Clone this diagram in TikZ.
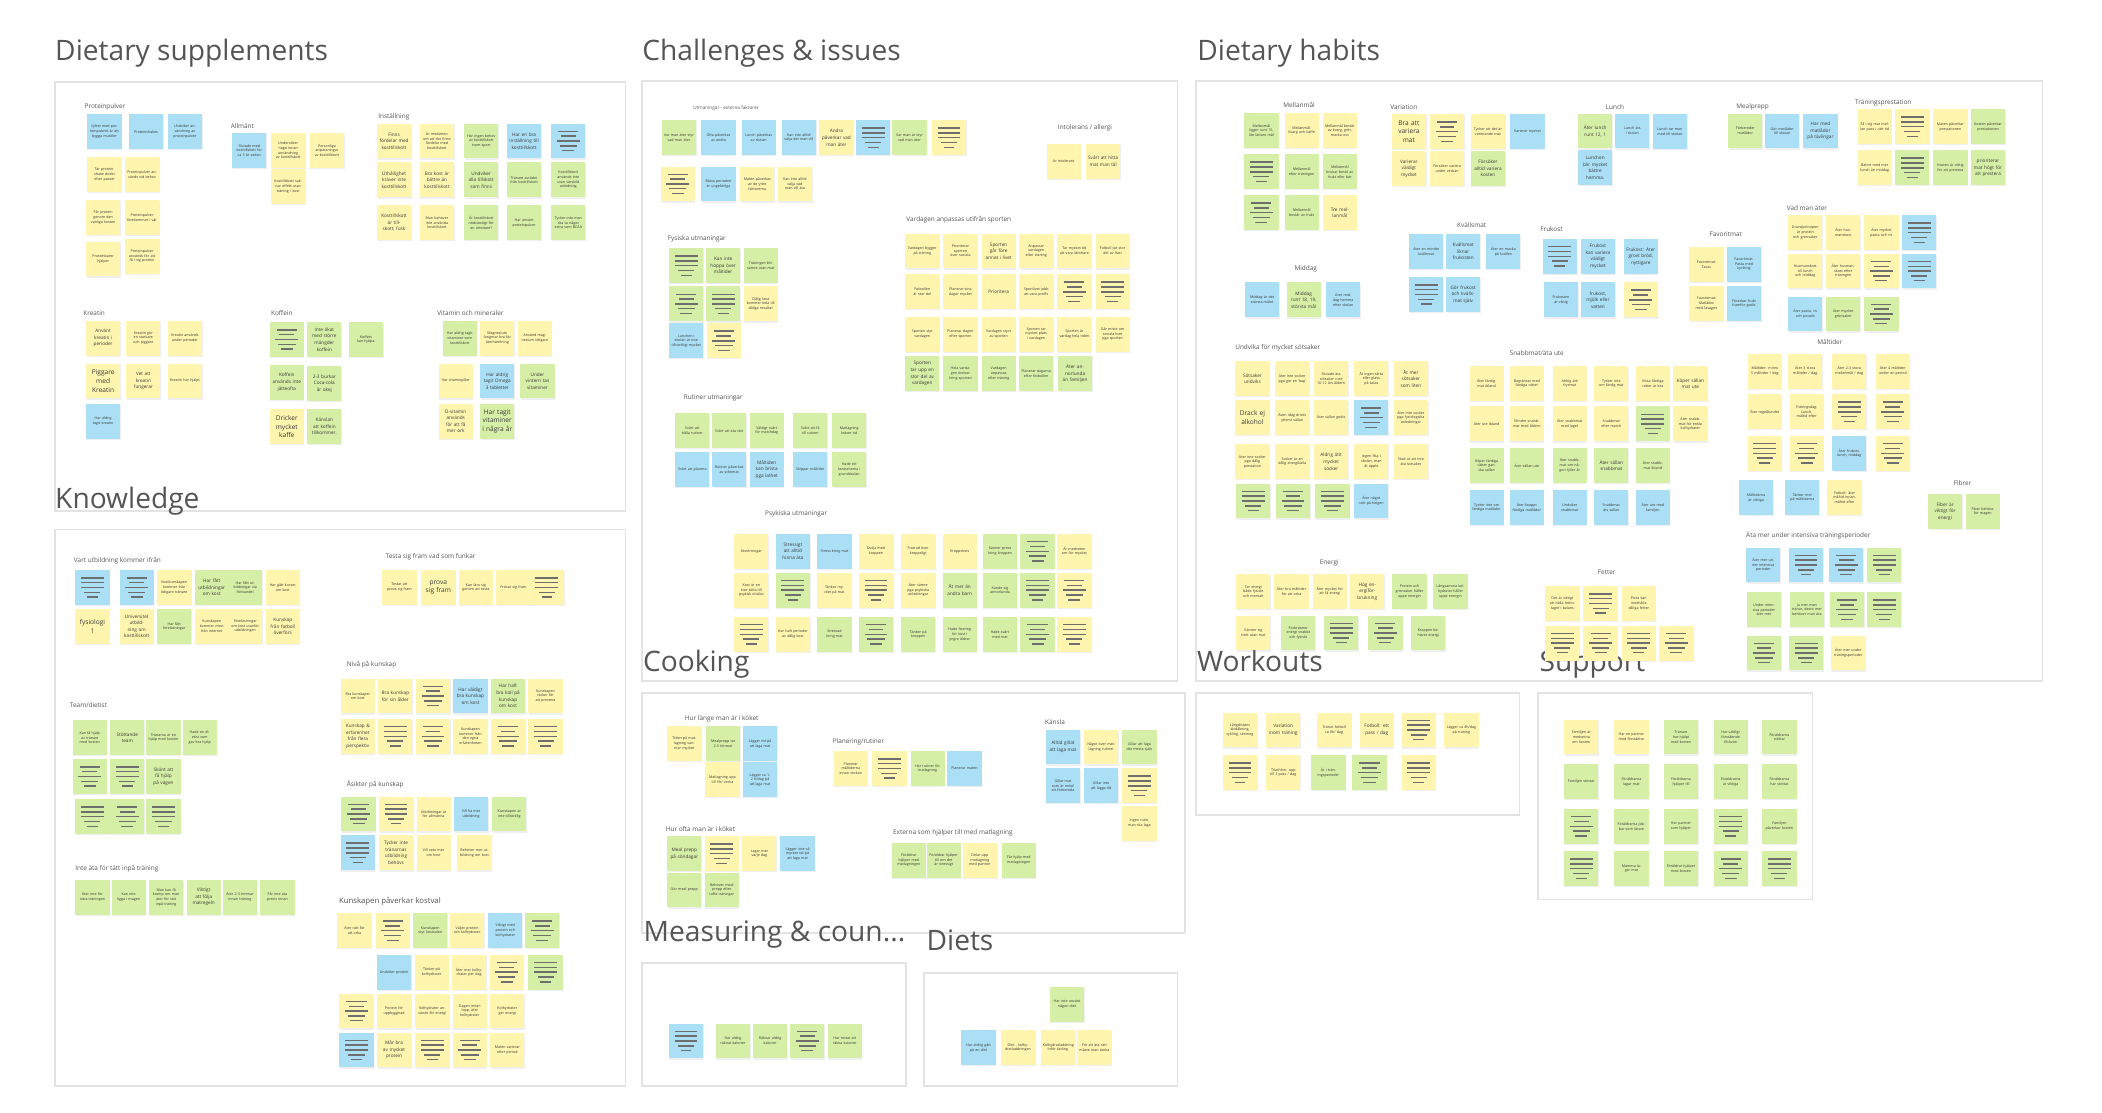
\documentclass[tikz,border=0pt]{standalone}
\usepackage{fontspec}
\setmainfont{Open Sans}
\usetikzlibrary{shadows}

\definecolor{yel}{HTML}{FFF5AF}
\definecolor{grn}{HTML}{D6EFA6}
\definecolor{blu}{HTML}{ABDFF6}
\definecolor{framegray}{HTML}{E3E3E3}
\definecolor{inkgray}{HTML}{555555}
\definecolor{bargray}{HTML}{6E6E6E}

% text sizes inside the notes
\newcommand{\szs}{\fontsize{2.7}{3.5}\selectfont}
\newcommand{\szm}{\fontsize{3.5}{4.9}\selectfont}
\newcommand{\szl}{\fontsize{4.9}{6.5}\selectfont}

% sticky note: x, y (top left), colour, size, text
\newcounter{stk}
\newcommand{\stk}[5]{\stepcounter{stk}%
  \node[sticky,fill=#3,font=\csname sz#4\endcsname] (n\arabic{stk}) at (#1,#2) {#5};}
% sticky note too small to read: drawn as bars
\newcommand{\lns}[3]{\stepcounter{stk}%
  \node[sticky,fill=#3] (n\arabic{stk}) at (#1,#2) {};
  \ifodd\value{stk}
    \foreach \w/\dy in {17/-7.2,17/-3.6,17/0,12/3.6,8/7.2}
      \draw[bar] ([xshift=-\w/2]n\arabic{stk}.center) ++(0,\dy) -- ++(\w,0);
  \else
    \foreach \w/\dy in {15/-7.2,11/-3.6,17/0,13/3.6,9/7.2}
      \draw[bar] ([xshift=-\w/2]n\arabic{stk}.center) ++(0,\dy) -- ++(\w,0);
  \fi}

\begin{document}
\begin{tikzpicture}[x=1pt,y=-1pt,
  frame/.style={draw=framegray,line width=1.3pt},
  title/.style={anchor=base west,inner sep=0,text=inkgray,font=\fontsize{21}{25}\selectfont},
  grp/.style={anchor=west,inner sep=0,text=inkgray,font=\fontsize{4.8}{5.5}\selectfont},
  sticky/.style={anchor=north west,minimum width=25.5pt,minimum height=26pt,inner sep=1pt,
    text width=22.5pt,align=center,text=black!78,
    drop shadow={shadow xshift=0.4pt,shadow yshift=-0.9pt,opacity=0.12}},
  bar/.style={draw=bargray,line width=1.1pt}]
\fill[white] (0,0) rectangle (1568,830);
\useasboundingbox (0,0) rectangle (1568,830);

% frames
\draw[frame] (41,61) rectangle (466.5,381);
\draw[frame] (41,395) rectangle (466.5,810);
\draw[frame] (479,60.5) rectangle (878.3,508);
\draw[frame] (892,60.5) rectangle (1523.5,508);
\draw[frame] (479,517) rectangle (884.1,696);
\draw[frame] (892,517) rectangle (1133.5,608);
\draw[frame] (1147.5,517) rectangle (1352,671);
\draw[frame] (479,718.5) rectangle (676,810);
\draw[frame] (689,726) rectangle (878.3,810);

% titles
\node[title] (tsupp) at (41,45.5) {Dietary supplements};
\node[title] (tchal) at (479,45.5) {Challenges \& issues};
\node[title] (thab) at (893,45.5) {Dietary habits};
\node[title] (tknow) at (41,379) {Knowledge};
\node[title] (tcook) at (479.5,501) {Cooking};
\node[title] (twork) at (892.7,501) {Workouts};
\node[title] (tsupport) at (1148.3,501) {Support};
\node[title] (tmeas) at (480,702.5) {Measuring \& coun...};
\node[title] (tdiet) at (691,709) {Diets};

%% Dietary supplements
\node[grp] (gprot) at (63,80) {Proteinpulver};
\stk{65}{85}{blu}{s}{Syftet med proteinpulvret är att bygga muskler}
\stk{96}{85}{blu}{s}{Proteinshakes}
\stk{125}{85}{blu}{s}{Undviker användning av proteinpulver}
\stk{65}{117}{yel}{s}{Tar proteinshake direkt efter passet}
\stk{93}{117}{yel}{s}{Proteinpulver används vid behov}
\stk{64}{149}{yel}{s}{Får protein genom den vanliga kosten}
\stk{93}{149}{yel}{s}{Proteinpulver förekommer i vår}
\stk{64}{180}{yel}{s}{Proteinbarer hjälper}
\stk{93}{178}{yel}{s}{Proteinpulver används för att få i sig protein}

\node[grp] (gallm) at (172,94) {Allmänt};
\stk{173}{99}{blu}{s}{Slutade med kosttillskott för ca 3 år sedan}
\stk{202}{99}{yel}{s}{Undersöker noga innan användning av kosttillskott}
\stk{231}{99}{yel}{s}{Personliga anpassningar av kosttillskott}
\stk{202}{126}{yel}{s}{Kosttillskott saknar effekt utan träning / kost}

\node[grp] (ginst) at (282,87) {Inställning};
\stk{281}{92}{yel}{m}{Finns fördelar med kosttillskott}
\stk{313}{92}{yel}{s}{Är medveten om att det finns fördelar med kosttillskott}
\stk{346}{92}{grn}{s}{Har ingen behov av kosttillskott inom sport}
\stk{378}{92}{blu}{m}{Har en bra inställning till kosttillskott}
\lns{411}{92}{blu}
\stk{281}{121}{yel}{m}{Uthållighet kräver inte kosttillskott}
\stk{313}{121}{yel}{m}{Bra kost är bättre än kosttillskott}
\stk{346}{121}{grn}{m}{Undviker alla tillskott som finns}
\stk{378}{121}{grn}{s}{Tränare avråder från kosttillskott}
\stk{411}{121}{grn}{s}{Kosttillskott används inte utan särskild anledning}
\stk{281}{153}{yel}{m}{Kosttillskott är tillskott, fusk}
\stk{313}{153}{yel}{s}{Man behöver inte använda kosttillskott}
\stk{346}{153}{grn}{s}{Är kosttillskott nödvändigt för en idrottare?}
\stk{378}{153}{grn}{s}{Har använt proteinpulver}
\stk{411}{153}{grn}{s}{Tycker inte man ska ta något extra som BCAA}

\node[grp] (gkrea) at (62,233.7) {Kreatin};
\stk{64}{239}{yel}{m}{Använt kreatin i perioder}
\stk{94}{239}{yel}{s}{Kreatin gör en starkare och piggare}
\stk{125}{239}{yel}{s}{Kreatin används under perioder}
\stk{64}{271}{yel}{l}{Piggare med Kreatin}
\stk{94}{271}{yel}{m}{Vet att kreatin fungerar}
\stk{125}{271}{yel}{s}{Kreatin har hjälpt}
\stk{64}{301}{blu}{s}{Har aldrig tagit kreatin}

\node[grp] (gkoff) at (202,233.7) {Koffein};
\lns{201}{240}{grn}
\stk{229}{240}{grn}{m}{Inte ökat med större mängder koffein}
\stk{260}{240}{grn}{s}{Koffein kan hjälpa}
\stk{201}{272}{grn}{m}{Koffein används inte jätteofta}
\stk{229}{273}{grn}{m}{2-3 burkar Coca-cola är okej}
\stk{201}{305}{yel}{l}{Dricker mycket kaffe}
\stk{229}{305}{grn}{m}{Känslan att koffein tillkommer.}

\node[grp] (gvit) at (326,233.7) {Vitamin och mineraler};
\stk{330}{239}{grn}{s}{Har aldrig tagit vitaminer som kosttillskott}
\stk{358}{239}{yel}{s}{Magnesium fungerar bra för återhämtning}
\stk{386}{239}{yel}{s}{Använd magnesium tidigare}
\stk{327}{271}{yel}{s}{Har vitaminpiller}
\stk{358}{271}{blu}{m}{Har aldrig tagit Omega 3 tabletter}
\stk{388}{271}{grn}{m}{Under vintern tas vitaminer}
\stk{327}{301}{yel}{m}{D-vitamin används för att få mer ork}
\stk{358}{301}{grn}{l}{Har tagit vitaminer i några år}

%% Knowledge
\node[grp] (gvart) at (55,418) {Vart utbildning kommer ifrån};
\lns{56}{425}{blu}
\lns{89}{425}{blu}
\stk{117}{425}{yel}{s}{Kostkunskapen kommer från tidigare tränare}
\stk{145}{425}{grn}{m}{Har fått utbildningar om kost}
\stk{170}{425}{grn}{s}{Har fått utbildningar via förbundet}
\stk{198}{425}{yel}{s}{Har gått kurser om kost}
\stk{56}{454}{yel}{l}{fysiologi 1}
\stk{89}{454}{yel}{m}{Universitet utbildning om kosttillskott}
\stk{117}{454}{grn}{s}{Har fått föreläsningar}
\stk{145}{454}{yel}{s}{Kunskapen kommer mest från internet}
\stk{170}{454}{yel}{s}{Föreläsningar om kost utanför utbildningen}
\stk{198}{454}{yel}{m}{Kunskap från fotboll överförs}

\node[grp] (gtesta) at (287.5,415) {Testa sig fram vad som funkar};
\stk{285}{425}{yel}{s}{Testar att prova sig fram}
\stk{314}{425}{yel}{l}{prova sig fram}
\stk{342}{425}{yel}{s}{Kan lära sig genom att testa}
\stk{370}{425}{yel}{s}{Prövar sig fram}
\lns{395}{425}{yel}

\node[grp] (gteam) at (52,526) {Team/dietist};
\stk{54}{537}{grn}{s}{Kan få hjälp av tränare med kosten}
\stk{82}{537}{grn}{m}{Stöttande team}
\stk{109}{537}{grn}{s}{Tränarna är en hjälp med kosten}
\stk{136}{537}{grn}{s}{Hade en dietist som gav bra hjälp}
\lns{54}{566}{grn}
\lns{82}{566}{grn}
\stk{109}{566}{grn}{m}{Skönt att få hjälp på vägen}
\lns{56}{596}{grn}
\lns{82}{596}{grn}
\lns{109}{596}{grn}

\node[grp] (ginte) at (56,648) {Inte äta för tätt inpå träning};
\stk{56}{656}{grn}{s}{Äter inte för nära träningen}
\stk{83}{656}{grn}{s}{Kan inte ligga i magen}
\stk{111}{656}{grn}{s}{Man kan få kramp om man äter för tätt inpå träning}
\stk{139}{656}{grn}{m}{Viktigt att följa matregeln}
\stk{166}{656}{grn}{s}{Äter 2-3 timmar innan träning}
\stk{194}{656}{grn}{s}{Får inte äta precis innan}

\node[grp] (gniva) at (258.5,496) {Nivå på kunskap};
\stk{254}{506}{yel}{s}{Bra kunskaper om kost}
\stk{282}{506}{yel}{m}{Bra kunskap för sin ålder}
\lns{310}{506}{yel}
\stk{338}{506}{blu}{m}{Har väldigt bra kunskap om kost}
\stk{366}{506}{grn}{m}{Har haft bra koll på kunskap om kost}
\stk{394}{506}{yel}{s}{Kunskapen räcker för att prestera}
\stk{254}{536}{yel}{m}{Kunskap \& erfarenhet från flera perspektiv}
\lns{282}{536}{yel}
\lns{310}{536}{yel}
\stk{338}{536}{yel}{s}{Kunskapen kommer från den egna erfarenheten}
\lns{366}{536}{yel}
\lns{394}{536}{yel}

\node[grp] (gasik) at (258.5,585) {Åsikter på kunskap};
\lns{254.5}{594}{grn}
\lns{282.5}{594}{yel}
\stk{310.5}{594}{yel}{s}{Utbildningar är för allmänna}
\stk{338.5}{594}{blu}{s}{Vill ha mer utbildning}
\stk{367}{594}{grn}{s}{Kunskapen är inte tillräcklig}
\lns{254}{623}{blu}
\stk{282.5}{623}{yel}{m}{Tycker inte tränarnas utbildning behövs}
\stk{310.5}{623}{yel}{s}{Vill veta mer om kost}
\stk{341}{623}{yel}{s}{Behöver mer utbildning om kost}

\node[grp,font=\fontsize{5.8}{6.6}\selectfont] (gkval) at (252.7,672.6) {Kunskapen påverkar kostval};
\stk{251.5}{681}{yel}{s}{Äter rätt för att orka}
\lns{280}{681}{yel}
\stk{308}{681}{grn}{s}{Kunskapen styr kostvalen}
\stk{335.5}{681}{yel}{s}{Väljer protein och kolhydrater}
\stk{364}{681}{blu}{s}{Viktigt med protein och kolhydrater}
\lns{391.5}{681}{grn}
\stk{281}{712}{blu}{s}{Undviker protein}
\stk{309}{712}{yel}{s}{Tänker på kolhydrater}
\stk{337}{712}{yel}{s}{Äter mer kolhydrater per dag}
\lns{365}{712}{yel}
\lns{394}{712}{grn}
\lns{253}{741}{yel}
\stk{281}{741}{yel}{s}{Protein för uppbyggnad}
\stk{309.5}{741}{yel}{s}{Kolhydrater används för energi}
\stk{337.5}{741}{yel}{s}{Dagen innan lopp, äter kolhydrater}
\stk{365.5}{741}{yel}{s}{Kolhydrater ger energi}
\lns{253}{770}{blu}
\stk{281}{770}{yel}{m}{Mår bra av mycket protein}
\lns{309.5}{770}{yel}
\lns{337.5}{770}{yel}
\stk{365.5}{770}{yel}{s}{Maten varierar efter period}

%% Challenges & issues
\node[grp,font=\fontsize{3.5}{4}\selectfont] (gext) at (517,80.6) {Utmaningar - externa faktorer};
\stk{493.5}{89.5}{grn}{s}{Var man äter styr vad man äter}
\stk{523}{89.5}{blu}{s}{Ofta påverkas av andra}
\stk{553}{89.5}{blu}{s}{Lunch påverkas av skolan}
\stk{583}{89.5}{blu}{s}{Kan inte alltid välja det man vill}
\stk{611}{89.5}{yel}{m}{Andra påverkar vad man äter}
\lns{638.5}{89.5}{blu}
\stk{665.5}{89.5}{grn}{s}{Var man är styr vad man äter}
\lns{695}{89.5}{yel}
\lns{492.5}{124}{yel}
\stk{523}{124}{blu}{s}{Bästa perioden är ungefärliga}
\stk{552}{124}{yel}{s}{Maten påverkas av de yttre faktorerna}
\stk{580}{124}{yel}{s}{Kan inte alltid välja vad man vill äta}

\node[grp] (gintol) at (789,95.7) {Intolerans / allergi};
\stk{780.5}{107}{yel}{s}{Är intolerant}
\stk{810}{107}{yel}{m}{Svårt att hitta mat man tål}

\node[grp] (gvard) at (676,164) {Vardagen anpassas utifrån sporten};
\stk{675}{174}{yel}{s}{Vardagen bygger på träning}
\stk{703.5}{174}{yel}{s}{Prioriterar sporten över sociala}
\stk{732}{174}{yel}{m}{Sporten går före annat i livet}
\stk{760}{174}{yel}{s}{Anpassar vardagen efter träning}
\stk{788.5}{174}{yel}{s}{Tar mycket tid att vara idrottare}
\stk{817}{174}{yel}{s}{Fotboll tar stor del av livet}
\stk{675}{204.5}{yel}{s}{Fotbollen är stor del}
\stk{703.5}{204.5}{yel}{s}{Planerar sina dagar mycket}
\stk{732}{204.5}{yel}{m}{Prioritera}
\stk{760}{204.5}{yel}{s}{Sportlivet jobb att vara proffs}
\lns{788.5}{204.5}{yel}
\lns{817}{204.5}{yel}
\stk{675}{236}{yel}{s}{Sporten styr vardagen}
\stk{703.5}{236}{yel}{s}{Planerar dagen efter sporten}
\stk{732}{236}{yel}{s}{Vardagen styrs av sporten}
\stk{760}{236}{yel}{s}{Sporten tar mycket plats i vardagen}
\stk{788.5}{236}{yel}{s}{Sporten är vardag hela tiden}
\stk{817}{236}{yel}{s}{Går miste om sociala livet pga sporten}
\stk{675}{265.5}{grn}{m}{Sporten tar upp en stor del av vardagen}
\stk{703.5}{265.5}{grn}{s}{Hela vardagen kretsar kring sporten}
\stk{732}{265.5}{grn}{s}{Vardagen anpassas efter träning}
\stk{760}{265.5}{grn}{s}{Planerar dagarna efter fotbollen}
\stk{789}{265.5}{grn}{m}{Äter annorlunda än familjen}

\node[grp] (gfys) at (498,177.8) {Fysiska utmaningar};
\lns{499}{185}{grn}
\stk{526.5}{185}{grn}{m}{Kan inte hoppa över måltider}
\stk{554.5}{185}{grn}{s}{Träningen blir sämre utan mat}
\lns{499}{213.5}{grn}
\lns{526.5}{213.5}{grn}
\stk{554.5}{213.5}{yel}{s}{Dålig kost kommer leda till dåliga resultat}
\stk{499}{241}{blu}{s}{Lunchen i skolan är inte tillräckligt mycket}
\lns{527}{241}{yel}

\node[grp] (grut) at (510,296.6) {Rutiner utmaningar};
\stk{503.5}{308}{grn}{s}{Svårt att hålla rutiner}
\stk{531}{308}{grn}{s}{Svårt att äta rätt}
\stk{559}{308}{grn}{s}{Väldigt svårt för matchdag}
\stk{591.5}{308}{grn}{s}{Svårt att få till rutiner}
\stk{620.5}{308}{grn}{s}{Matlagning kräver tid}
\stk{503.5}{337}{blu}{s}{Svårt att planera}
\stk{531}{337}{blu}{s}{Rutiner påverkas av schemat}
\stk{559}{337}{blu}{m}{Måltiden kan brista pga lathet}
\stk{591.5}{337}{blu}{s}{Skippar måltider}
\stk{620.5}{337}{grn}{s}{Hade ett kostschema i grundskolan}

\node[grp] (gpsyk) at (570.6,383) {Psykiska utmaningar};
\stk{547.5}{398}{yel}{s}{Ätstörningar}
\stk{578.5}{398}{blu}{m}{Stressigt att alltid hinna äta}
\stk{609.5}{398}{blu}{s}{Stress kring mat}
\stk{640.5}{398}{yel}{s}{Ovilja med kroppen}
\stk{672}{398}{yel}{s}{Fixerad över kroppsligt}
\stk{703}{398}{yel}{s}{Kroppshets}
\stk{733}{398}{grn}{s}{Känner press kring kroppen}
\lns{761}{398}{grn}
\stk{788.5}{398}{yel}{s}{Är medveten om för mycket}
\stk{547.5}{427}{yel}{s}{Kost är en stor källa till psykisk ohälsa}
\lns{578.5}{427}{grn}
\stk{609.5}{427}{yel}{s}{Tänker mycket på mat}
\lns{640.5}{427}{yel}
\stk{672}{427}{yel}{s}{Äter sämre pga psykiska anledningar}
\stk{703}{427}{grn}{m}{Åt mer än andra barn}
\stk{733}{427}{grn}{s}{Kände sig annorlunda}
\lns{761}{427}{grn}
\lns{788.5}{427}{yel}
\lns{547.5}{460}{yel}
\stk{578.5}{460}{yel}{s}{Har haft perioder av dålig kost}
\stk{609.5}{460}{grn}{s}{Stressad kring mat}
\lns{640.5}{460}{grn}
\stk{672}{460}{grn}{s}{Tänker på kroppen}
\stk{703}{460}{grn}{s}{Hade fixering för kost i yngre åldrar}
\stk{733}{460}{grn}{s}{Hade svårt med mat}
\lns{761}{460}{grn}
\lns{788.5}{460}{yel}

%% Dietary habits
\node[grp,anchor=center] (gmell) at (969,78) {Mellanmål};
\stk{928}{84}{grn}{s}{Mellanmål ligger runt 15, lite lättare mål}
\stk{958}{84}{yel}{s}{Mellanmål: Kvarg och kaffe}
\stk{986.5}{84}{yel}{s}{Mellanmål består av kvarg, gröt, macka osv}
\lns{928}{115}{grn}
\stk{958}{115}{grn}{s}{Mellanmål efter träningen}
\stk{986.5}{115}{grn}{s}{Mellanmål brukar bestå av frukt eller bär}
\lns{928}{145.5}{grn}
\stk{958}{145.5}{grn}{s}{Mellanmål består av frukt}
\stk{986.5}{145.5}{yel}{m}{Tre mellanmål}

\node[grp] (gvari) at (1037,79.8) {Variation};
\stk{1038}{85}{yel}{l}{Bra att variera mat}
\lns{1066.5}{85}{yel}
\stk{1097}{85}{yel}{s}{Tycker att det är varierande mat}
\stk{1126.5}{85}{blu}{s}{Varierar mycket}
\stk{1038}{112.5}{yel}{m}{Varierar väldigt mycket}
\stk{1066.5}{112.5}{yel}{s}{Försöker variera under veckan}
\stk{1097}{112.5}{grn}{m}{Försöker alltid variera kosten}

\node[grp,anchor=center] (glunch) at (1204.7,79.6) {Lunch};
\stk{1177}{84.5}{grn}{m}{Äter lunch runt 12, 1}
\stk{1204.7}{84.5}{blu}{s}{Lunch äts i skolan}
\stk{1232.7}{85}{blu}{s}{Lunch tar man med till skolan}
\stk{1177}{112}{blu}{m}{Lunchen blir mycket bättre hemma.}

\node[grp,anchor=center] (gkvall) at (1097.8,168) {Kvällsmat};
\stk{1051}{174.5}{blu}{s}{Äter en mindre kvällsmat}
\stk{1078.5}{174.5}{blu}{m}{Kvällsmat liknar frukosten}
\stk{1108.5}{174.5}{blu}{s}{Äter en macka på kvällen}
\lns{1051}{206.5}{blu}
\stk{1078.5}{206.5}{blu}{m}{Gör frukost och kvällsmat själv}

\node[grp] (gfruk) at (1148.8,170.6) {Frukost};
\lns{1150.5}{178}{blu}
\stk{1179}{178}{blu}{m}{Frukost kan variera väldigt mycket}
\stk{1211}{178}{blu}{m}{Frukost: Äter grovt bröd, nyttigare}
\stk{1151.5}{210.5}{blu}{s}{Frukosten är viktig}
\stk{1179}{210.5}{blu}{m}{frukost, mjölk eller vatten}
\lns{1211}{210.5}{yel}

\node[grp,anchor=center] (gmidd) at (974,200.4) {Middag};
\stk{928.5}{210.5}{blu}{s}{Middag är det största målet}
\stk{959.5}{210.5}{grn}{m}{Middag runt 18, 19, största mål}
\stk{989}{210.5}{blu}{s}{Äter middag hemma efter skolan}

\node[grp] (gsot) at (921.3,259.3) {Undvika för mycket sötsaker};
\stk{921.3}{269.3}{yel}{m}{Sötsaker undviks}
\stk{951}{269.3}{yel}{s}{Äter inte socker pga gör en 'bag'}
\stk{980}{269.3}{yel}{s}{Slutade äta sötsaker runt 10-12 års åldern}
\stk{1010}{269.3}{yel}{s}{Åt ingen tårta eller glass på kalas}
\stk{1039.5}{269.3}{yel}{m}{Åt mer sötsaker som liten}
\stk{921.3}{298.4}{yel}{l}{Drack ej alkohol}
\stk{951}{298.4}{yel}{s}{Även idag dricks ytterst sällan}
\stk{980}{298.4}{yel}{s}{Äter sällan godis}
\lns{1010}{298.4}{blu}
\stk{1039.5}{298.4}{yel}{s}{Äter inte socker pga fysiologiska anledningar}
\stk{921.3}{331.2}{yel}{s}{Äter inte socker pga dålig prestation}
\stk{951}{331.2}{yel}{s}{Socker är en dålig energikälla}
\stk{980}{331.2}{yel}{m}{Aldrig ätit mycket socker}
\stk{1010}{331.2}{yel}{s}{Ingen fika i skolan, man åt äpple}
\stk{1039.5}{331.2}{yel}{s}{Stod ut att inte äta sötsaker}
\lns{922}{360.5}{grn}
\lns{951.5}{360.5}{grn}
\lns{981}{360.5}{grn}
\stk{1010}{360.5}{blu}{s}{Äter något sött på helgen}

\node[grp] (gsnabb) at (1126,263.6) {Snabbmat/äta ute};
\stk{1096}{273}{yel}{s}{Äter färdigmat ibland}
\stk{1126}{273}{yel}{s}{Begränsat med färdiga rätter}
\stk{1158}{273}{yel}{s}{Aldrig ätit frysmat}
\stk{1189}{273}{yel}{s}{Tycker inte om färdig mat}
\stk{1220}{273}{yel}{s}{Vissa färdiga rätter är bra}
\stk{1248}{273}{yel}{m}{Köper sällan mat ute}
\stk{1096}{303}{yel}{s}{Äter ute ibland}
\stk{1126}{303}{yel}{s}{Mindre snabbmat med åldern}
\stk{1158}{303}{yel}{s}{Äter snabbmat med laget}
\stk{1189}{303}{yel}{s}{Snabbmat efter match}
\lns{1220}{303}{grn}
\stk{1248}{303}{yel}{s}{Äter snabbmat för enkla kolhydrater}
\stk{1096}{334}{grn}{s}{Köper färdiga rätter ganska sällan}
\stk{1126}{334}{grn}{s}{Äter sällan ute}
\stk{1158}{334}{grn}{s}{Äter snabbmat om någon fyller år}
\stk{1189}{334}{grn}{m}{Äter sällan snabbmat}
\stk{1220}{334}{grn}{s}{Äter snabbmat ibland}
\stk{1096}{365.5}{blu}{s}{Tycker inte om färdiga matlådor}
\stk{1126}{365.5}{blu}{s}{Äter knappt färdiga matlådor}
\stk{1158}{365.5}{blu}{s}{Undviker snabbmat}
\stk{1189}{365.5}{blu}{s}{Snabbmat äts sällan}
\stk{1220}{365.5}{blu}{s}{Äter ute med familjen}

\node[grp,anchor=center] (gener) at (991.6,420.2) {Energi};
\stk{922}{428}{yel}{s}{Tar energi både fysiskt och mentalt}
\stk{950.5}{428}{yel}{s}{Äter bra måltider för att orka}
\stk{979}{428}{yel}{s}{Äter mycket för att få energi}
\stk{1007}{428}{yel}{m}{Hög energiförbrukning}
\stk{1038.5}{428}{grn}{s}{Protein och grönsaker håller uppe energin}
\stk{1069}{428}{grn}{s}{Långsamma kolhydrater håller uppe energin}
\stk{922}{459}{yel}{s}{Känner sig trött utan mat}
\stk{955.5}{459}{grn}{s}{Förbränner energi snabbt och fysiskt}
\lns{987.5}{459}{grn}
\lns{1020.5}{459}{grn}
\stk{1052.5}{459}{grn}{s}{Kroppen behöver energi}

\node[grp,anchor=center] (gfett) at (1198.5,427) {Fetter};
\stk{1152.5}{437}{yel}{s}{Det är viktigt att hålla fettintaget i balans}
\lns{1181}{437}{yel}
\stk{1209.5}{437}{yel}{s}{Pizza kan innehålla dåliga fetter}
\lns{1152.5}{466.5}{yel}
\lns{1181}{466.5}{yel}
\lns{1209.5}{466.5}{yel}
\lns{1237.5}{466.5}{yel}

\node[grp] (gmeal) at (1295,79.6) {Mealprepp};
\stk{1289}{84.5}{grn}{s}{Förbereder matlådor}
\stk{1316.5}{84.5}{blu}{s}{Gör matlådor till skolan}
\stk{1345}{84.5}{blu}{m}{Har med matlådor på tävlingar}

\node[grp] (gtran) at (1383.7,76.6) {Träningsprestation};
\stk{1385.5}{81.3}{yel}{s}{Få i sig mat mellan pass i rätt tid}
\lns{1413.5}{81.3}{yel}
\stk{1442}{81.3}{yel}{s}{Maten påverkar prestationen}
\stk{1470}{81.3}{grn}{s}{Kosten påverkar prestationen}
\stk{1385.5}{112}{yel}{s}{Bättre med mer lunch än middag}
\lns{1413.5}{112}{grn}
\stk{1442}{112}{grn}{s}{Kosten är viktig för att prestera}
\stk{1470}{112}{grn}{m}{prioriterar mat högt för att prestera}

\node[grp] (gfav) at (1275,174.8) {Favoritmat};
\stk{1260}{184}{yel}{s}{Favoritmat: Tacos}
\stk{1288}{184}{blu}{s}{Favoritmat: Pasta med kyckling}
\stk{1260}{213.3}{yel}{s}{Favoritmat: Matlådor med lasagne}
\stk{1288}{213.3}{blu}{s}{Föredrar frukt framför godis}

\node[grp] (gvad) at (1332.7,155) {Vad man äter};
\stk{1333.7}{160.4}{yel}{s}{Grundprincipen är protein och grönsaker}
\stk{1362}{160.4}{yel}{s}{Äter husmanskost}
\stk{1390.5}{160.4}{yel}{s}{Äter mycket pasta och ris}
\lns{1418.7}{160.4}{blu}
\stk{1333.7}{189}{yel}{s}{Husmanskost till lunch och middag}
\stk{1362}{189}{yel}{s}{Äter husmanskost efter träningen}
\lns{1390.5}{189}{yel}
\lns{1418.7}{189}{blu}
\stk{1333.7}{221}{blu}{s}{Äter pasta, ris och potatis}
\stk{1362}{221}{grn}{s}{Äter mycket grönsaker}
\lns{1390.5}{221}{grn}

\node[grp,anchor=center] (gmalt) at (1365,255) {Måltider};
\stk{1303.5}{263.6}{yel}{s}{Måltider: minst 5 måltider / dag}
\stk{1333.7}{263.6}{yel}{s}{Äter 3 stora måltider / dag}
\stk{1366.5}{263.6}{yel}{s}{Äter 2-3 stora mellanmål / dag}
\stk{1399}{263.6}{yel}{s}{Äter 4 måltider under en period}
\stk{1303.5}{294}{yel}{s}{Äter regelbundet}
\stk{1334.7}{294}{yel}{s}{Träningsdag: Lunch, måltid efter}
\lns{1366.5}{294}{yel}
\lns{1399}{294}{yel}
\lns{1303.5}{325}{yel}
\lns{1334.7}{325}{yel}
\stk{1366.5}{325}{blu}{s}{Äter frukost, lunch, middag}
\lns{1399}{325}{yel}
\stk{1297}{358}{blu}{s}{Måltiderna är viktiga}
\stk{1331.5}{358}{blu}{s}{Tänker mer på måltiderna}
\stk{1363}{358}{yel}{s}{Fotboll: äter måltid innan, måltid efter}

\node[grp,anchor=center] (gfib) at (1464,360.5) {Fibrer};
\stk{1438}{368.5}{grn}{m}{Fiber är viktigt för energi}
\stk{1466}{368.5}{grn}{s}{Fiber behövs för magen}

\node[grp] (gata) at (1302.4,399.6) {Äta mer under intensiva träningsperioder};
\stk{1302.4}{408.3}{blu}{s}{Äter mer under intensiva perioder}
\lns{1334.2}{408.3}{blu}
\lns{1364.3}{408.3}{blu}
\lns{1392.6}{408.3}{grn}
\stk{1302.9}{441.6}{grn}{s}{Under intensiva perioder äter mer}
\stk{1334.9}{441.6}{grn}{s}{Ju mer man tränar, desto mer behöver man äta}
\lns{1364.8}{441.6}{grn}
\lns{1392.6}{441.6}{grn}
\lns{1302.9}{473.9}{grn}
\lns{1334.4}{473.9}{grn}
\stk{1365.8}{473.9}{yel}{s}{Äter mer under träningsperioder}

%% Cooking
\node[grp] (glang) at (510.7,536.5) {Hur länge man är i köket};
\stk{497.5}{541.5}{yel}{s}{Tiden på matlagning varierar mycket}
\stk{526.5}{541.5}{grn}{s}{Mealprepp tar 2-3 timmar}
\stk{554}{541.5}{blu}{s}{Lägger tid på att laga mat}
\stk{526}{568.5}{yel}{s}{Matlagning upp till 5h/ vecka}
\stk{554}{568.5}{blu}{s}{Lägger ca 1-2 h/dag på att laga mat}

\node[grp] (gofta) at (496.5,618.6) {Hur ofta man är i köket};
\stk{497.5}{623.6}{grn}{m}{Meal prepp på söndagar}
\lns{525.5}{623.6}{yel}
\stk{553.5}{623.6}{yel}{s}{Lagar mat varje dag}
\stk{582}{623.6}{blu}{s}{Lägger inte så mycket tid på att laga mat}
\stk{497.5}{650.7}{grn}{s}{Gör meal prepp}
\stk{525.5}{650.7}{grn}{s}{Behöver meal prepp efter tuffa träningar}

\node[grp] (gplan) at (621,553.2) {Planering/rutiner};
\stk{621.7}{560}{yel}{s}{Planerar måltiderna innan veckan}
\lns{650.5}{560}{yel}
\stk{679}{560}{grn}{s}{Har rutiner för matlagning}
\stk{706.5}{560}{blu}{s}{Planerar maten}

\node[grp] (gkans) at (779.4,538.5) {Känsla};
\stk{780}{544}{blu}{m}{Alltid gillat att laga mat}
\stk{808.5}{544}{yel}{s}{Något över matlagning rutiner}
\stk{837}{544}{grn}{s}{Gillar att laga det mesta själv}
\stk{780}{573}{blu}{s}{Gillar mat som är enkel att förbereda}
\stk{808.5}{573}{blu}{s}{Gillar inte att lägga tid}
\lns{837}{573}{yel}
\stk{837}{601}{yel}{s}{Ingen rutin, man ska laga}

\node[grp] (gextm) at (666,621) {Externa som hjälper till med matlagning};
\stk{665}{628.5}{grn}{s}{Föräldrar hjälper med matlagningen}
\stk{691}{628.5}{grn}{s}{Föräldrar hjälper till om det är stressigt}
\stk{718}{628.5}{yel}{s}{Delar upp matlagning med partner}
\stk{747}{628.5}{grn}{s}{Får hjälp med matlagningen}

%% Measuring & counting
\lns{498.7}{763.3}{blu}
\stk{533.8}{763.3}{grn}{s}{Har aldrig räknat kalorier}
\stk{561.5}{763.3}{grn}{s}{Räknar aldrig kalorier}
\lns{589.2}{763.3}{grn}
\stk{617.2}{763.3}{grn}{s}{Har testat att räkna kalorier}

%% Diets
\stk{783}{736}{grn}{s}{Har inte använt någon diet}
\stk{717}{768.3}{blu}{s}{Har aldrig gått på en diet}
\stk{746.4}{768.3}{yel}{s}{Diet - kolhydratladdningen}
\stk{776.2}{768.3}{yel}{s}{Kolhydratladdning inför tävling}
\stk{803.4}{768.3}{yel}{s}{För att äta rätt måste man tänka}

%% Workouts
\stk{912}{531.3}{yel}{s}{Långdistans skidåkning, cykling, simning}
\stk{944.3}{531.3}{yel}{m}{Variation inom träning}
\stk{982.3}{531.3}{yel}{s}{Tränar fotboll ca 6h/ dag}
\stk{1014}{531.3}{yel}{m}{Fotboll: ett pass / dag}
\lns{1045.4}{531.3}{yel}
\stk{1077.2}{531.3}{yel}{s}{Lägger ca 4h/dag på träning}
\lns{912}{563.2}{yel}
\stk{944.3}{563.2}{yel}{s}{Triathlon: upp till 3 pass / dag}
\stk{978}{563.2}{grn}{s}{Är i träningsperioder}
\lns{1008.6}{563.2}{grn}
\lns{1045.4}{563.2}{yel}

%% Support
\stk{1166.6}{536.6}{yel}{s}{Familjen är medvetna om kosten}
\stk{1204}{536.6}{yel}{s}{Har en partner med förståelse}
\stk{1241}{536.6}{grn}{s}{Tränare har hjälpt med kosten}
\stk{1278}{536.6}{grn}{s}{Har väldigt förstående flickvän}
\stk{1314.4}{536.6}{grn}{s}{Föräldrarna stöttar}
\stk{1166.6}{570}{grn}{s}{Familjen stöttar}
\stk{1204}{570}{grn}{s}{Föräldrarna lagar mat}
\stk{1241}{570}{grn}{s}{Föräldrarna hjälper till}
\stk{1278}{570}{grn}{s}{Föräldrarna är viktiga}
\stk{1314.4}{570}{grn}{s}{Föräldrarna har stöttat}
\lns{1166.6}{603.2}{grn}
\stk{1204}{603.2}{grn}{s}{Föräldrarna jobbar som lärare}
\stk{1241}{603.2}{grn}{s}{Har partner som hjälper}
\lns{1278}{603.2}{grn}
\stk{1314.4}{603.2}{grn}{s}{Familjen påverkar kosten}
\lns{1166.6}{634.8}{grn}
\stk{1204}{634.8}{grn}{s}{Mamma lagar mat}
\stk{1241}{634.8}{grn}{s}{Föräldrar hjälper med kosten}
\lns{1278}{634.8}{grn}
\lns{1314.4}{634.8}{grn}
\end{tikzpicture}
\end{document}
